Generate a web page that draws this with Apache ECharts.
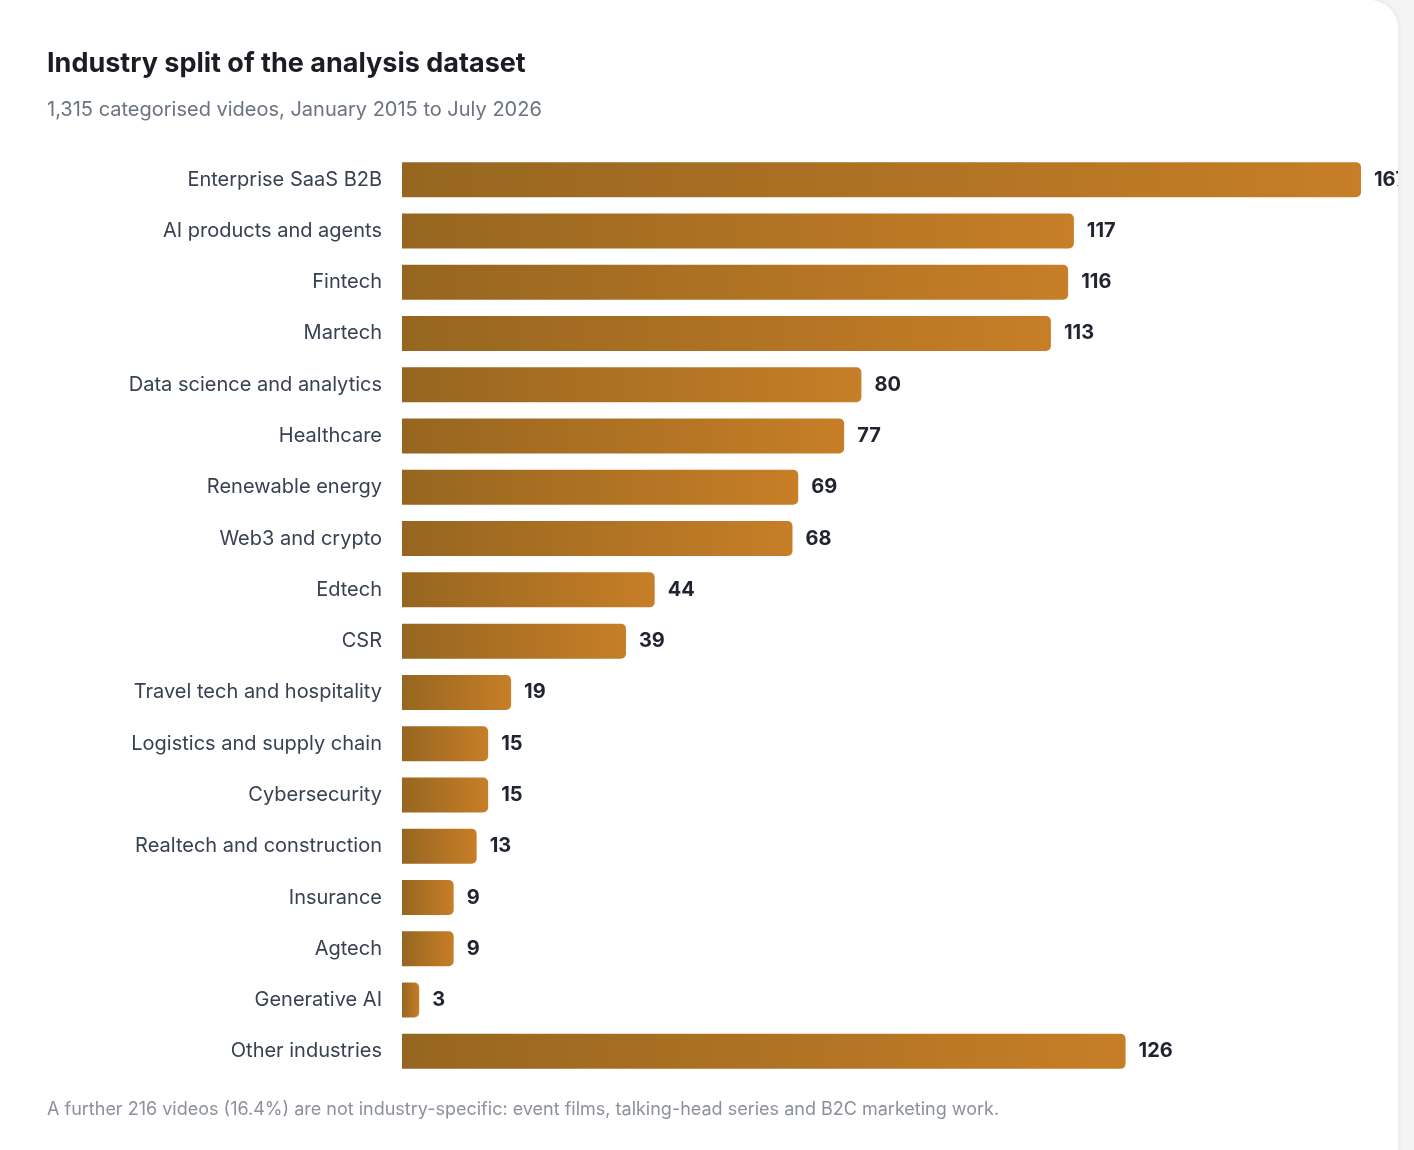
<!DOCTYPE html>
<html><head><meta charset="utf-8">
<script src="https://cdn.jsdelivr.net/npm/echarts@6/dist/echarts.min.js"></script>
<style>
html,body{margin:0;padding:0;background:#f4f4f5;}
#card{position:absolute;left:0;top:0;width:1398px;height:1150px;background:#fff;border-radius:0 28px 0 0;overflow:hidden;box-shadow:0 0 6px rgba(0,0,0,0.08);}
#c{width:1398px;height:1150px;}
</style></head><body>
<div id="card"><div id="c"></div></div>
<script>
const categories = ["Enterprise SaaS B2B","AI products and agents","Fintech","Martech","Data science and analytics","Healthcare","Renewable energy","Web3 and crypto","Edtech","CSR","Travel tech and hospitality","Logistics and supply chain","Cybersecurity","Realtech and construction","Insurance","Agtech","Generative AI","Other industries"];
const values = [167,117,116,113,80,77,69,68,44,39,19,15,15,13,9,9,3,126];
const titleText = "Industry split of the analysis dataset";
const subtitleText = "1,315 categorised videos, January 2015 to July 2026";
const footText = "A further 216 videos (16.4%) are not industry-specific: event films, talking-head series and B2C marketing work.";
const font = "Inter, 'Noto Sans', sans-serif";
const chart = echarts.init(document.getElementById('c'));
chart.setOption({
  animation:false,
  graphic:[
    {type:'text',left:47,top:50,style:{text:titleText,font:"bold 27px "+font,fill:'#1a1d24'}},
    {type:'text',left:47,top:100,style:{text:subtitleText,font:"20px "+font,fill:'#6b7280'}},
    {type:'text',left:47,top:1101,style:{text:footText,font:"18px "+font,fill:'#8b909a'}}
  ],
  grid:{left:402,right:37,top:154,bottom:73,containLabel:false},
  xAxis:{type:'value',min:0,max:167,show:false},
  yAxis:{type:'category',data:categories,inverse:true,axisLine:{show:false},axisTick:{show:false},
    axisLabel:{margin:20,fontSize:20,color:'#374151',fontFamily:font}},
  series:[{type:'bar',data:values,barWidth:35,
    itemStyle:{borderRadius:[0,5,5,0],color:new echarts.graphic.LinearGradient(0,0,1,0,[{offset:0,color:'#966620'},{offset:1,color:'#c77e27'}])},
    label:{show:true,position:'right',distance:13,fontSize:20,fontWeight:'bold',color:'#1f2430',fontFamily:font}}]
});
</script></body></html>
